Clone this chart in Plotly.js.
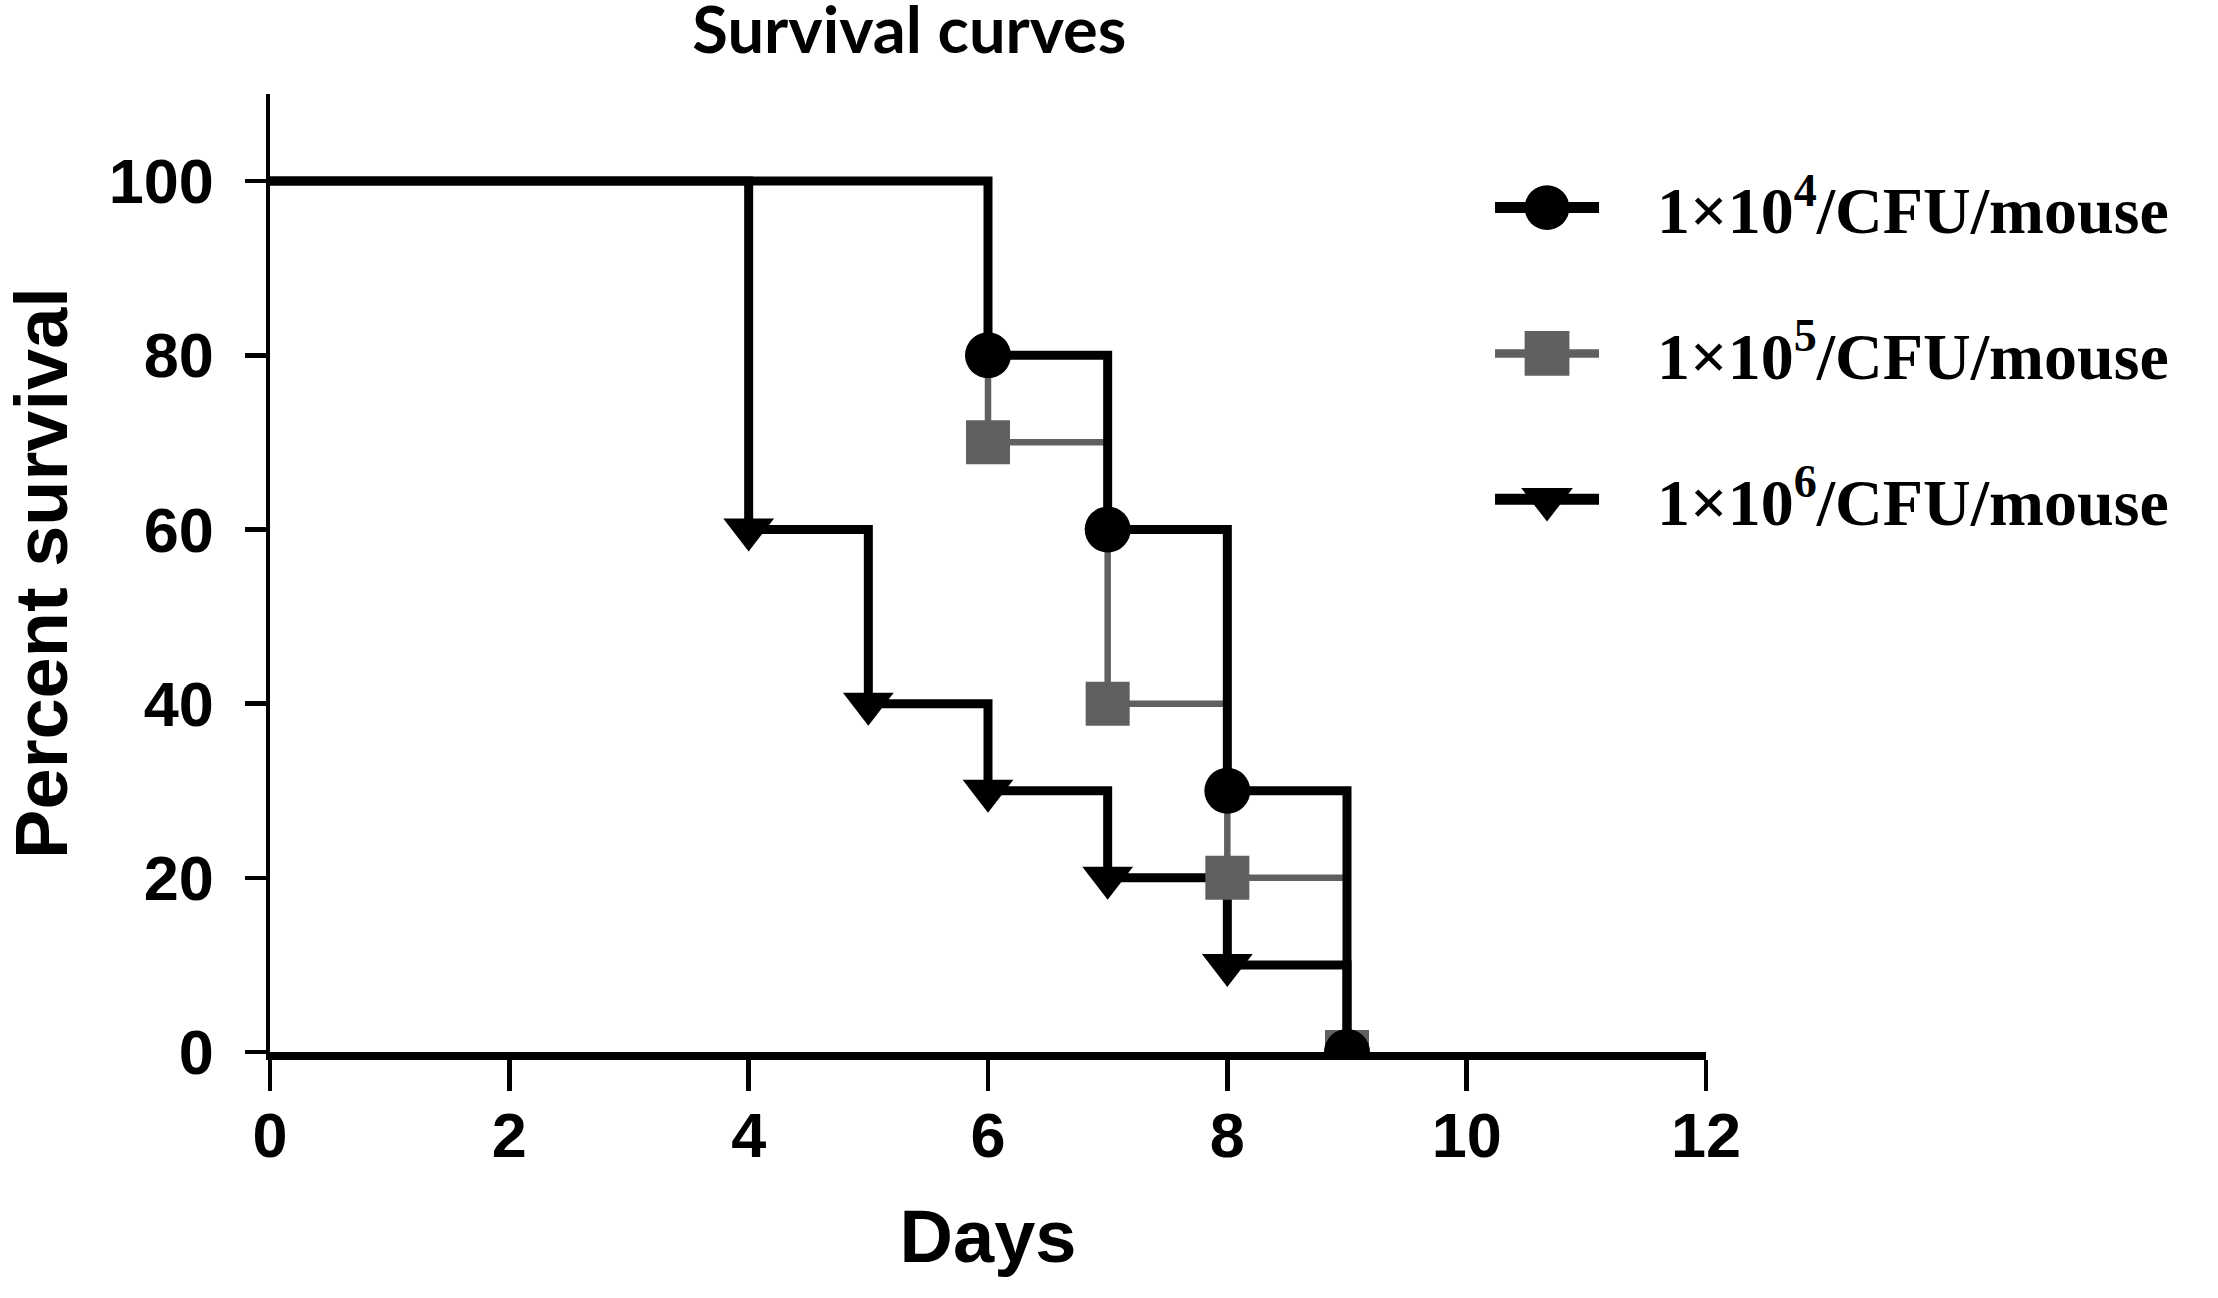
<!DOCTYPE html>
<html>
<head>
<meta charset="utf-8">
<script src="https://cdn.plot.ly/plotly-3.0.1.min.js"></script>
<style>html,body{margin:0;padding:0;background:#fff;}#chart{width:2218px;height:1298px;}</style>
</head>
<body>
<div id="chart"></div>
<script>
// Data
const seriesNames = ["1×10<sup>4</sup>/CFU/mouse", "1×10<sup>5</sup>/CFU/mouse", "1×10<sup>6</sup>/CFU/mouse"];
const days1e4 = [0, 6, 7, 8, 9];
const surv1e4 = [100, 80, 60, 30, 0];
const days1e5 = [0, 6, 7, 8, 9];
const surv1e5 = [100, 70, 40, 20, 0];
const days1e6 = [0, 4, 5, 6, 7, 8, 9];
const surv1e6 = [100, 60, 40, 30, 20, 10, 0];
const xTicks = [0, 2, 4, 6, 8, 10, 12];
const yTicks = [0, 20, 40, 60, 80, 100];

const BLACK = "#000000", GRAY = "#606060";
function sizes(n, sz, hideLast) {
  return Array.from({length: n}, (_, i) => (i === 0 || (hideLast && i === n - 1)) ? 0 : sz);
}

const traces = [
  {x: days1e6, y: surv1e6, name: seriesNames[2], legendgroup: "g3", legendrank: 3, mode: "lines+markers",
   line: {shape: "hv", color: BLACK, width: 9},
   marker: {symbol: "triangle-down", color: BLACK, opacity: 1, line: {width: 0}, size: sizes(days1e6.length, 44, true)}},
  {x: days1e5, y: surv1e5, name: seriesNames[1], legendgroup: "g2", legendrank: 2, mode: "lines+markers",
   line: {shape: "hv", color: GRAY, width: 6.5},
   marker: {symbol: "square", color: GRAY, opacity: 1, line: {width: 0}, size: sizes(days1e5.length, 44, false)}},
  {x: days1e4, y: surv1e4, name: seriesNames[0], legendgroup: "g1", legendrank: 1, mode: "lines+markers",
   line: {shape: "hv", color: BLACK, width: 9},
   marker: {symbol: "circle", color: BLACK, opacity: 1, line: {width: 0}, size: sizes(days1e4.length, 46, false)}}
];

const tickFont = {family: "Liberation Sans, Arial, sans-serif", size: 63, color: "#000", weight: "bold"};
const titleFont = {family: "Liberation Sans, Arial, sans-serif", size: 74, color: "#000", weight: "bold"};
const layout = {
  width: 2218, height: 1298,
  paper_bgcolor: "#fff", plot_bgcolor: "#fff",
  margin: {l: 270, r: 512, t: 94, b: 246, pad: 0},
  title: {text: "Survival curves", font: {family: "Lato, sans-serif", size: 65, color: "#000", weight: "bold"},
          x: 0.41, xanchor: "center", y: 0.977, yanchor: "middle", xref: "container", yref: "container"},
  xaxis: {range: [0, 12], tickvals: xTicks, ticktext: xTicks.map(String), showgrid: false, zeroline: false,
          showline: true, linecolor: "#000", linewidth: 8, ticks: "outside", ticklen: 31, tickwidth: 4.5, tickcolor: "#000",
          tickfont: tickFont, ticklabelstandoff: -10,
          title: {text: "Days", font: titleFont, standoff: 45}},
  yaxis: {range: [0, 110], tickvals: yTicks, ticktext: yTicks.map(String), showgrid: false, zeroline: false,
          showline: true, linecolor: "#000", linewidth: 4.5, ticks: "outside", ticklen: 21, tickwidth: 4.5, tickcolor: "#000",
          tickfont: tickFont, ticklabelstandoff: 18,
          title: {text: "Percent survival", font: titleFont, standoff: 22}},
  showlegend: true,
  legend: {x: 0.8496, y: 0.933, xanchor: "left", yanchor: "top", traceorder: "grouped", tracegroupgap: 57,
           bgcolor: "rgba(0,0,0,0)", itemwidth: 157, itemsizing: "trace",
           font: {family: "Liberation Serif, Times New Roman, serif", size: 66, color: "#000", weight: "bold"}}
};

Plotly.newPlot("chart", traces, layout, {displayModeBar: false, staticPlot: true}).then(function (gd) {
  // enlarge the legend keys so they match the reference's long keys with big symbols
  gd.querySelectorAll(".legend .traces").forEach(function (tr) {
    tr.querySelectorAll(".legendlines path").forEach(function (p) {
      p.setAttribute("d", "M5,0h104");
      var w = parseFloat(p.style.strokeWidth) || 9;
      p.style.strokeWidth = (w + 2) + "px";
    });
    tr.querySelectorAll(".legendpoints path").forEach(function (p) {
      p.setAttribute("transform", "translate(57,0) scale(2.8)");
    });
  });
});
</script>
</body>
</html>
